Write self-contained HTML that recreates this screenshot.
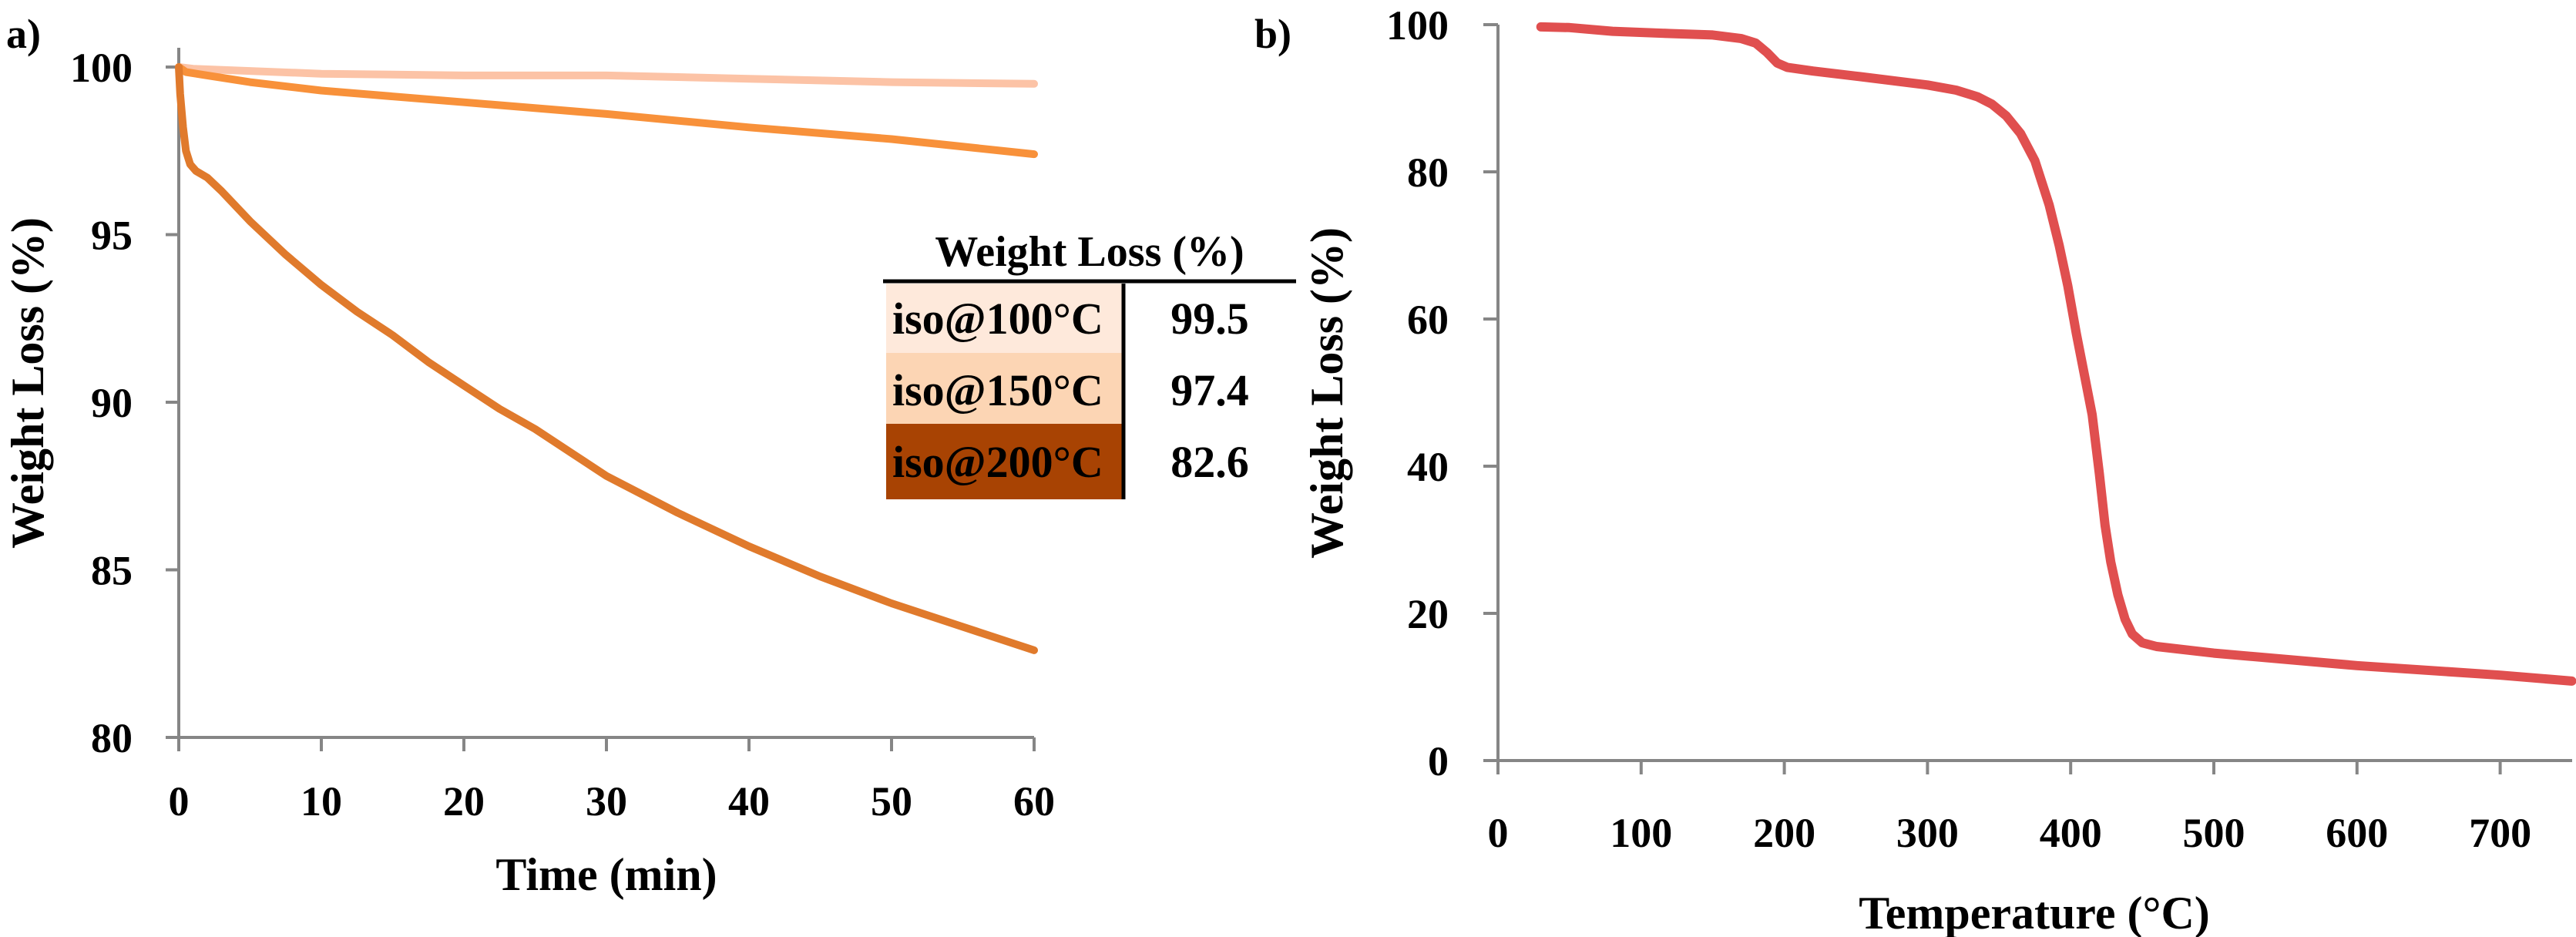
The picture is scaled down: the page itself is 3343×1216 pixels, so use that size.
<!DOCTYPE html>
<html><head><meta charset="utf-8"><style>
html,body{margin:0;padding:0;background:#fff;}
svg{display:block;font-family:"Liberation Serif",serif;font-weight:bold;}
</style></head><body>
<svg id="fig" width="3343" height="1216" viewBox="0 0 3343 1216" xmlns="http://www.w3.org/2000/svg">
<text x="8" y="62" font-size="54">a)</text>
<text x="1628" y="62" font-size="54">b)</text>
<g id="ga"></g>
<g id="gb"></g>
<g>
<text x="1414" y="345" font-size="56" text-anchor="middle">Weight Loss (%)</text>
<line x1="1146" y1="365" x2="1682" y2="365" stroke="#000" stroke-width="5"/>
<rect x="1150" y="368" width="306" height="90" fill="#fee9db"/>
<rect x="1150" y="458" width="306" height="92" fill="#fcd5b4"/>
<rect x="1150" y="550" width="306" height="98" fill="#a84303"/>
<line x1="1458" y1="368" x2="1458" y2="648" stroke="#000" stroke-width="5"/>
<text x="1158" y="433" font-size="58">iso@100°C</text>
<text x="1158" y="526" font-size="58">iso@150°C</text>
<text x="1158" y="619" font-size="58">iso@200°C</text>
<text x="1570" y="433" font-size="58" text-anchor="middle">99.5</text>
<text x="1570" y="526" font-size="58" text-anchor="middle">97.4</text>
<text x="1570" y="619" font-size="58" text-anchor="middle">82.6</text>
</g>
</svg>
<script>
const NS="http://www.w3.org/2000/svg";
// Chart A data
const aXTicks=[0,10,20,30,40,50,60];
const aYTicks=[80,85,90,95,100];
const t100=[0,1,10,20,30,40,50,60];
const w100=[100,99.95,99.8,99.75,99.75,99.65,99.55,99.5];
const t150=[0,0.5,2,5,10,20,30,40,50,60];
const w150=[100,99.85,99.75,99.55,99.3,98.95,98.6,98.2,97.85,97.4];
const t200=[0,0.1,0.3,0.5,0.8,1.2,2,3,5,7.5,10,12.5,15,17.5,20,22.5,25,27.5,30,35,40,45,50,55,60];
const w200=[100,99.2,98.2,97.5,97.1,96.9,96.7,96.3,95.4,94.4,93.5,92.7,92.0,91.2,90.5,89.8,89.2,88.5,87.8,86.7,85.7,84.8,84.0,83.3,82.6];
// Chart B data
const bXTicks=[0,100,200,300,400,500,600,700];
const bYTicks=[0,20,40,60,80,100];
const tempC=[30,50,80,120,150,170,180,188,195,202,220,250,300,320,335,345,355,365,375,385,392,398,404,410,415,420,424,428,433,438,443,450,460,500,600,700,750];
const wB=[99.7,99.6,99.1,98.8,98.6,98.1,97.5,96.2,94.8,94.2,93.7,93,91.8,91.1,90.2,89.2,87.6,85.2,81.5,75.5,70,64.5,58,52,47,39,32,27,22.5,19.2,17.2,16,15.5,14.6,12.9,11.6,10.8];

function el(p,tag,at){const e=document.createElementNS(NS,tag);for(const k in at)e.setAttribute(k,at[k]);p.appendChild(e);return e;}
function line(p,x1,y1,x2,y2){return el(p,'line',{x1,y1,x2,y2,stroke:'#868686','stroke-width':4});}

// ---- Chart A
const ga=document.getElementById('ga');
const ax=v=>232+(v-0)/60*(1342-232);
const ay=v=>957-(v-80)/20*(957-87);
let e=line(ga,232,62,232,957);


e=line(ga,232,957,1342,957);


aYTicks.forEach(v=>{
  const t=line(ga,215,ay(v),232,ay(v));
  
  
  const l=el(ga,'text',{x:172,y:ay(v)+19,'font-size':54,'text-anchor':'end'});l.textContent=v;
  
  
});
aXTicks.forEach(v=>{
  const t=line(ga,ax(v),957,ax(v),975);
  
  
  const l=el(ga,'text',{x:ax(v),y:1058,'font-size':54,'text-anchor':'middle'});l.textContent=v;
  
  
});
e=el(ga,'text',{x:787,y:1155,'font-size':60,'text-anchor':'middle'});e.textContent='Time (min)';


e=el(ga,'text',{x:0,y:0,'font-size':60,'text-anchor':'middle',transform:'translate(56,497) rotate(-90)'});e.textContent='Weight Loss (%)';


function series(g,xs,ys,fx,fy,color,name,w){
  const d=xs.map((x,i)=>(i?'L':'M')+fx(x).toFixed(1)+','+fy(ys[i]).toFixed(1)).join('');
  const p=el(g,'path',{d,fill:'none',stroke:color,'stroke-width':w,'stroke-linejoin':'round','stroke-linecap':'round'});
  
  
}
series(ga,t100,w100,ax,ay,'#fcc3a6','series-iso-100',10);
series(ga,t150,w150,ax,ay,'#f8913a','series-iso-150',10);
series(ga,t200,w200,ax,ay,'#e07a2c','series-iso-200',10);

// ---- Chart B
const gb=document.getElementById('gb');
const bx=v=>1944+v/100*185.8;
const by=v=>987-v/100*(987-32);
e=line(gb,1944,32,1944,987);


e=line(gb,1944,987,3338,987);


bYTicks.forEach(v=>{
  const t=line(gb,1925,by(v),1944,by(v));
  
  
  const l=el(gb,'text',{x:1880,y:by(v)+19,'font-size':54,'text-anchor':'end'});l.textContent=v;
  
  
});
bXTicks.forEach(v=>{
  const t=line(gb,bx(v),987,bx(v),1005);
  
  
  const l=el(gb,'text',{x:bx(v),y:1099,'font-size':54,'text-anchor':'middle'});l.textContent=v;
  
  
});
e=el(gb,'text',{x:2640,y:1205,'font-size':60,'text-anchor':'middle'});e.textContent='Temperature (°C)';


e=el(gb,'text',{x:0,y:0,'font-size':60,'text-anchor':'middle',transform:'translate(1742,510) rotate(-90)'});e.textContent='Weight Loss (%)';


series(gb,tempC,wB,bx,by,'#e04f4f','series-tga',12);
</script>
</body></html>
